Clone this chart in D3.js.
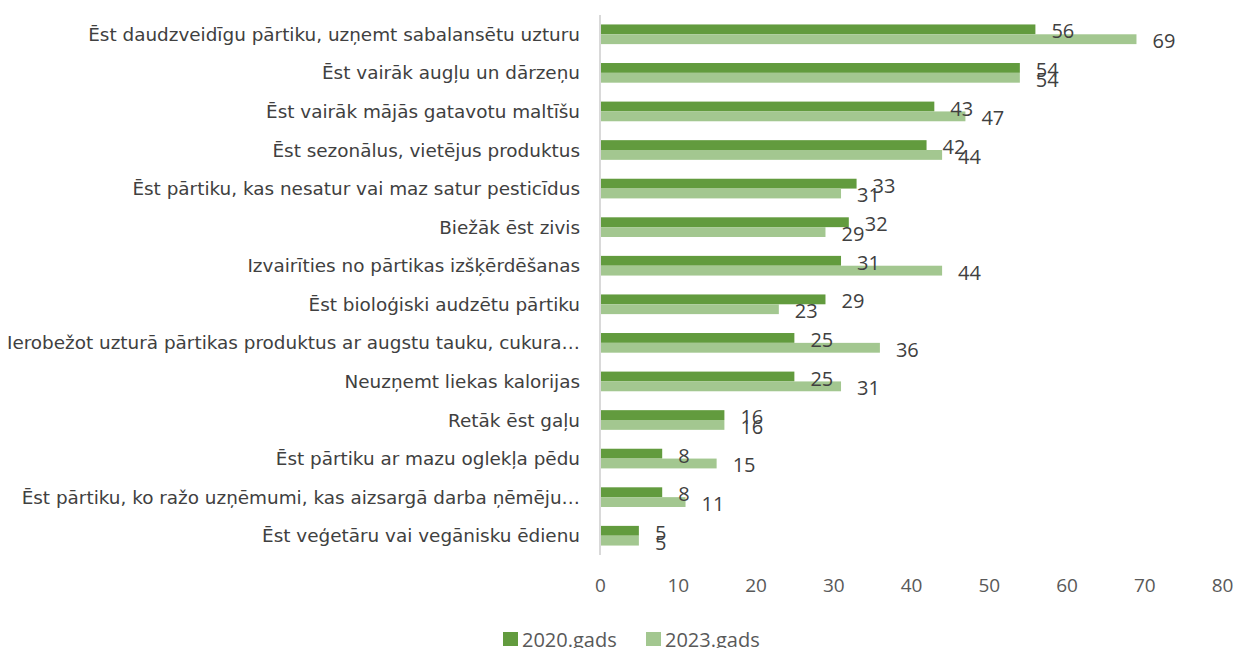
<!DOCTYPE html>
<html>
<head>
<meta charset="utf-8">
<script src="https://cdn.jsdelivr.net/npm/d3@7/dist/d3.min.js"></script>
<style>
  html, body { margin: 0; padding: 0; background: #fff; }
  svg { display: block; }
</style>
</head>
<body>
<svg id="chart" width="1238" height="648"></svg>
<script>
// Survey categories (top to bottom)
const categories = [
  "Ēst daudzveidīgu pārtiku, uzņemt sabalansētu uzturu",
  "Ēst vairāk augļu un dārzeņu",
  "Ēst vairāk mājās gatavotu maltīšu",
  "Ēst sezonālus, vietējus produktus",
  "Ēst pārtiku, kas nesatur vai maz satur pesticīdus",
  "Biežāk ēst zivis",
  "Izvairīties no pārtikas izšķērdēšanas",
  "Ēst bioloģiski audzētu pārtiku",
  "Ierobežot uzturā pārtikas produktus ar augstu tauku, cukura…",
  "Neuzņemt liekas kalorijas",
  "Retāk ēst gaļu",
  "Ēst pārtiku ar mazu oglekļa pēdu",
  "Ēst pārtiku, ko ražo uzņēmumi, kas aizsargā darba ņēmēju…",
  "Ēst veģetāru vai vegānisku ēdienu"
];
const values2020 = [56, 54, 43, 42, 33, 32, 31, 29, 25, 25, 16, 8, 8, 5];
const values2023 = [69, 54, 47, 44, 31, 29, 44, 23, 36, 31, 16, 15, 11, 5];
const seriesNames = ["2020.gads", "2023.gads"];
const seriesColors = ["#629b3e", "#a3c790"];
const xTicks = [0, 10, 20, 30, 40, 50, 60, 70, 80];

const svg = d3.select("#chart");

const x = d3.scaleLinear().domain([0, 80]).range([600, 1222]);
const y = d3.scaleBand().domain(categories).range([15, 555])
  .paddingInner(0.49).paddingOuter(0.245);
const ySub = d3.scaleBand().domain(seriesNames).range([0, y.bandwidth()]);

const rows = categories.map((c, i) => ({ cat: c, vals: [values2020[i], values2023[i]] }));

// Bars
const g = svg.append("g");
rows.forEach(r => {
  r.vals.forEach((v, k) => {
    g.append("rect")
      .attr("x", x(0))
      .attr("y", y(r.cat) + ySub(seriesNames[k]))
      .attr("width", x(v) - x(0))
      .attr("height", ySub.bandwidth())
      .attr("fill", seriesColors[k]);
  });
});

// Value labels
rows.forEach(r => {
  r.vals.forEach((v, k) => {
    g.append("text")
      .attr("x", x(v) + 16)
      .attr("y", y(r.cat) + ySub(seriesNames[k]) + ySub.bandwidth() / 2 + 1.5)
      .attr("dominant-baseline", "central")
      .attr("font-family", "'Open Sans', sans-serif")
      .attr("font-size", 20)
      .attr("fill", "#404040")
      .text(v);
  });
});

// Category axis line
svg.append("line")
  .attr("x1", x(0)).attr("x2", x(0))
  .attr("y1", 15).attr("y2", 555)
  .attr("stroke", "#d9d9d9").attr("stroke-width", 2);

// Category labels
svg.append("g").selectAll("text").data(categories).join("text")
  .attr("x", 580)
  .attr("y", d => y(d) + y.bandwidth() / 2)
  .attr("text-anchor", "end")
  .attr("dominant-baseline", "central")
  .attr("font-family", "'DejaVu Sans', sans-serif")
  .attr("font-size", 18.4)
  .attr("fill", "#404040")
  .text(d => d);

// Value axis tick labels
const xAxis = d3.axisBottom(x).tickValues(xTicks).tickSize(0).tickPadding(0);
const ax = svg.append("g").attr("transform", "translate(0,578)").call(xAxis);
ax.select(".domain").remove();
ax.selectAll("text")
  .attr("font-family", "'Open Sans', sans-serif")
  .attr("font-size", 19)
  .attr("fill", "#595959");

// Legend
const legend = svg.append("g");
const legendX = [503, 646];
seriesNames.forEach((n, k) => {
  legend.append("rect")
    .attr("x", legendX[k]).attr("y", 632)
    .attr("width", 15).attr("height", 14)
    .attr("fill", seriesColors[k]);
  legend.append("text")
    .attr("x", legendX[k] + 19).attr("y", 639)
    .attr("dominant-baseline", "central")
    .attr("font-family", "'Open Sans', sans-serif")
    .attr("font-size", 20)
    .attr("fill", "#595959")
    .text(n);
});
</script>
</body>
</html>
